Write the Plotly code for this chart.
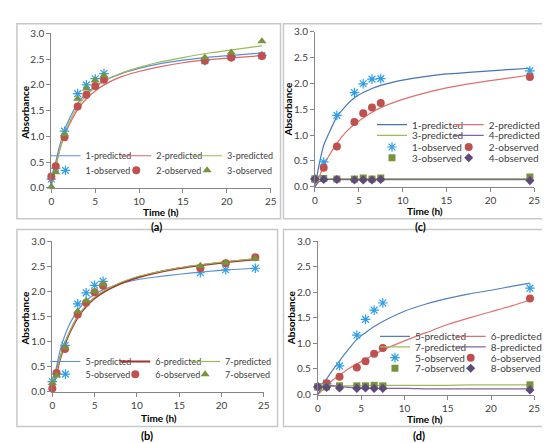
import plotly.graph_objects as go

W, H = 550, 443

# sampling times of the observations
t_obs_ab = [0, 0.5, 1.5, 3, 4, 5, 6, 17.5, 20.5, 24]
t_obs_cd = [0, 1, 2.5, 4.5, 5.5, 6.5, 7.5, 24.5]
t_fit_ab = [0, 0.5, 1, 1.5, 2, 3, 4, 5, 6, 8, 10, 12, 15, 18, 21, 24]
t_fit_cd = [0, 0.5, 1, 1.5, 2.5, 3.5, 4.5, 5.5, 6.5, 7.5, 10, 12.5, 15, 17.5, 20, 22.5, 24.5]

# panel (a)
a_obs1 = [0.17, 0.38, 1.10, 1.83, 2.00, 2.12, 2.22, 2.47, 2.55, 2.57]
a_obs2 = [0.22, 0.42, 0.98, 1.58, 1.81, 1.98, 2.10, 2.47, 2.53, 2.56]
a_obs3 = [0.02, 0.30, 1.04, 1.73, 1.93, 2.09, 2.18, 2.53, 2.63, 2.85]
a_fit1 = [0.10, 0.50, 0.85, 1.12, 1.32, 1.64, 1.84, 1.97, 2.08, 2.22, 2.32, 2.40, 2.48, 2.54, 2.58, 2.62]
a_fit2 = [0.05, 0.42, 0.76, 1.01, 1.21, 1.52, 1.73, 1.88, 2.00, 2.16, 2.26, 2.34, 2.43, 2.49, 2.53, 2.57]
a_fit3 = [0.02, 0.40, 0.76, 1.04, 1.25, 1.58, 1.80, 1.95, 2.07, 2.23, 2.34, 2.43, 2.53, 2.62, 2.69, 2.76]

# panel (b)
b_obs5 = [0.20, 0.35, 0.92, 1.75, 1.97, 2.12, 2.20, 2.37, 2.43, 2.46]
b_obs6 = [0.06, 0.37, 0.85, 1.54, 1.77, 1.98, 2.11, 2.46, 2.56, 2.68]
b_obs7 = [0.17, 0.32, 0.88, 1.60, 1.81, 2.00, 2.14, 2.51, 2.57, 2.65]
b_fit5 = [0.08, 0.50, 0.87, 1.13, 1.33, 1.62, 1.81, 1.94, 2.03, 2.15, 2.23, 2.28, 2.34, 2.39, 2.43, 2.46]
b_fit6 = [0.03, 0.38, 0.70, 0.95, 1.16, 1.48, 1.70, 1.86, 1.98, 2.15, 2.27, 2.36, 2.46, 2.53, 2.59, 2.64]
b_fit7 = [0.05, 0.40, 0.72, 0.98, 1.18, 1.50, 1.72, 1.88, 2.00, 2.17, 2.29, 2.37, 2.47, 2.54, 2.60, 2.65]

# panel (c)
c_obs1 = [0.15, 0.48, 1.38, 1.82, 1.99, 2.08, 2.09, 2.24]
c_obs2 = [0.15, 0.37, 0.78, 1.25, 1.42, 1.53, 1.62, 2.12]
c_obs3 = [0.15, 0.16, 0.15, 0.15, 0.17, 0.15, 0.17, 0.19]
c_obs4 = [0.15, 0.14, 0.14, 0.13, 0.13, 0.13, 0.14, 0.12]
c_fit1 = [0.0, 0.45, 0.80, 1.00, 1.35, 1.56, 1.72, 1.82, 1.90, 1.96, 2.06, 2.13, 2.18, 2.21, 2.24, 2.27, 2.29]
c_fit2 = [0.0, 0.20, 0.40, 0.57, 0.84, 1.05, 1.21, 1.33, 1.44, 1.53, 1.69, 1.81, 1.91, 1.99, 2.05, 2.11, 2.16]
c_fit3 = [0.0, 0.11, 0.15, 0.16, 0.16, 0.16, 0.16, 0.16, 0.16, 0.16, 0.16, 0.16, 0.16, 0.16, 0.16, 0.16, 0.16]
c_fit4 = [0.0, 0.10, 0.13, 0.14, 0.14, 0.14, 0.14, 0.14, 0.14, 0.14, 0.14, 0.14, 0.14, 0.14, 0.14, 0.14, 0.14]

# panel (d)
d_obs5 = [0.15, 0.22, 0.56, 1.16, 1.47, 1.65, 1.79, 2.08]
d_obs6 = [0.15, 0.22, 0.35, 0.53, 0.65, 0.80, 0.91, 1.88]
d_obs7 = [0.15, 0.15, 0.17, 0.17, 0.17, 0.18, 0.17, 0.19]
d_obs8 = [0.15, 0.14, 0.13, 0.12, 0.13, 0.12, 0.12, 0.09]
d_fit5 = [0.0, 0.15, 0.30, 0.43, 0.66, 0.88, 1.08, 1.21, 1.33, 1.43, 1.63, 1.77, 1.88, 1.97, 2.04, 2.12, 2.18]
d_fit6 = [0.0, 0.08, 0.17, 0.25, 0.38, 0.50, 0.60, 0.69, 0.78, 0.87, 1.05, 1.21, 1.37, 1.50, 1.62, 1.74, 1.85]
d_fit7 = [0.0, 0.10, 0.15, 0.16, 0.17, 0.17, 0.17, 0.18, 0.18, 0.18, 0.18, 0.18, 0.18, 0.19, 0.19, 0.19, 0.19]
d_fit8 = [0.0, 0.14, 0.19, 0.18, 0.16, 0.14, 0.13, 0.13, 0.12, 0.12, 0.12, 0.11, 0.11, 0.11, 0.11, 0.11, 0.11]

FONT = "Lato"
GRAY_TXT = "#404040"
AX_GRAY = "#868686"


def px_x(x):
    return x / W


def px_y(y):
    return 1 - y / H


fig = go.Figure()

star = dict(symbol="asterisk-open", size=8, color="#2f9ee8", line=dict(width=1.2, color="#2f9ee8"))
circle = dict(symbol="circle", size=8, color="#c0504d")
tri = dict(symbol="triangle-up", size=8, color="#77933c")
square = dict(symbol="square", size=7, color="#77933c")
diamond = dict(symbol="diamond", size=7, color="#5f497a")

# one small legend per entry so the rows/columns can sit where the reference has them
# (legend-box x in px, row centre y in px, font size)
legend_spots = []


def place(lx, ly, fs):
    name = "legend" if not legend_spots else "legend%d" % (len(legend_spots) + 1)
    legend_spots.append((name, lx, ly, fs))
    return name


def fit(t, y, name, color, ax, spot, width=1.2):
    fig.add_trace(go.Scatter(x=t, y=y, name=name, mode="lines",
                             line=dict(color=color, width=width, shape="spline", smoothing=0.7),
                             xaxis="x" + ax, yaxis="y" + ax, legend=place(*spot), cliponaxis=False))


def obs(t, y, name, marker, ax, spot):
    fig.add_trace(go.Scatter(x=t, y=y, name=name, mode="markers", marker=marker,
                             xaxis="x" + ax, yaxis="y" + ax, legend=place(*spot), cliponaxis=False))


# (a) -> axis "", (c) -> "2", (b) -> "3", (d) -> "4"
ca = [35, 107, 179]
fit(t_fit_ab, a_fit1, "1-predicted", "#5b8fd4", "", (ca[0], 154, 9))
fit(t_fit_ab, a_fit2, "2-predicted", "#df6460", "", (ca[1], 154, 9))
fit(t_fit_ab, a_fit3, "3-predicted", "#9bbb59", "", (ca[2], 154, 9))
obs(t_obs_ab, a_obs1, "1-observed", star, "", (ca[0], 169, 9))
obs(t_obs_ab, a_obs2, "2-observed", circle, "", (ca[1], 169, 9))
obs(t_obs_ab, a_obs3, "3-observed", tri, "", (ca[2], 169, 9))

cc = [367, 445]
fit(t_fit_cd, c_fit1, "1-predicted", "#4575b4", "2", (cc[0], 122, 10))
fit(t_fit_cd, c_fit2, "2-predicted", "#e0706c", "2", (cc[1], 122, 10))
fit(t_fit_cd, c_fit3, "3-predicted", "#9bbb59", "2", (cc[0], 133, 10))
fit(t_fit_cd, c_fit4, "4-predicted", "#8064a2", "2", (cc[1], 133, 10))
obs(t_obs_cd, c_obs1, "1-observed", star, "2", (cc[0], 145, 10))
obs(t_obs_cd, c_obs2, "2-observed", circle, "2", (cc[1], 145, 10))
obs(t_obs_cd, c_obs3, "3-observed", square, "2", (cc[0], 156, 10))
obs(t_obs_cd, c_obs4, "4-observed", diamond, "2", (cc[1], 156, 10))

cb = [35, 106, 177]
fit(t_fit_ab, b_fit5, "5-predicted", "#5b8fd4", "3", (cb[0], 366, 9))
fit(t_fit_ab, b_fit6, "6-predicted", "#a3322d", "3", (cb[1], 366, 9), width=2)
fit(t_fit_ab, b_fit7, "7-predicted", "#9bbb59", "3", (cb[2], 366, 9))
obs(t_obs_ab, b_obs5, "5-observed", star, "3", (cb[0], 379, 9))
obs(t_obs_ab, b_obs6, "6-observed", circle, "3", (cb[1], 379, 9))
obs(t_obs_ab, b_obs7, "7-observed", tri, "3", (cb[2], 379, 9))

cd = [370, 447]
fit(t_fit_cd, d_fit5, "5-predicted", "#4f81bd", "4", (cd[0], 340, 10))
fit(t_fit_cd, d_fit6, "6-predicted", "#e0706c", "4", (cd[1], 340, 10))
fit(t_fit_cd, d_fit7, "7-predicted", "#9bbb59", "4", (cd[0], 351, 10))
fit(t_fit_cd, d_fit8, "8-predicted", "#8064a2", "4", (cd[1], 351, 10))
obs(t_obs_cd, d_obs5, "5-observed", star, "4", (cd[0], 362, 10))
obs(t_obs_cd, d_obs6, "6-observed", circle, "4", (cd[1], 362, 10))
obs(t_obs_cd, d_obs7, "7-observed", square, "4", (cd[0], 373, 10))
obs(t_obs_cd, d_obs8, "8-observed", diamond, "4", (cd[1], 373, 10))

# plot-area pixel boxes: (x at t=0, x at t=25, y at 0, y at 3.0)
areas = {
    "": (41, 264, 178, 19),
    "2": (309, 532, 177, 17),
    "3": (42, 257, 388, 233),
    "4": (312, 532, 391, 233),
}
# axis title centres in px: (x-title x, x-title y, y-title x, y-title y)
title_spots = {
    "": (152, 203, 14, 100),
    "2": (421, 202, 282, 97),
    "3": (150, 415, 14, 312),
    "4": (421, 416, 284, 312),
}
tick_font = dict(family=FONT, size=10, color=GRAY_TXT)
title_font = dict(family=FONT, size=10, color="#000000")


def label(text, x, y, font, angle=0):
    fig.add_annotation(text=text, xref="paper", yref="paper", x=px_x(x), y=px_y(y),
                       xanchor="center", yanchor="middle", showarrow=False, textangle=angle, font=font)


for key, (x0, x1, y0, y1) in areas.items():
    common = dict(showline=True, linecolor=AX_GRAY, linewidth=1, ticks="outside", ticklen=4,
                  tickcolor=AX_GRAY, showgrid=False, zeroline=False, tickfont=tick_font)
    fig.update_layout(**{
        "xaxis" + key: dict(domain=[px_x(x0), px_x(x1)], range=[0, 25], tickvals=[0, 5, 10, 15, 20, 25],
                            anchor="y" + key, **common),
        "yaxis" + key: dict(domain=[px_y(y0), px_y(y1)], range=[0, 3], dtick=0.5, tickformat=".1f",
                            anchor="x" + key, **common),
    })
    tx, ty, yx, yy = title_spots[key]
    label("<b>Time (h)</b>", tx, ty, title_font)
    label("<b>Absorbance</b>", yx, yy, title_font, angle=-90)

for name, lx, ly, fs in legend_spots:
    fig.update_layout(**{name: dict(orientation="h", x=px_x(lx), y=px_y(ly - 9), xanchor="left",
                                    yanchor="middle", bgcolor="rgba(0,0,0,0)",
                                    font=dict(family=FONT, size=fs, color=GRAY_TXT), itemclick=False)})

# panel frames and captions
frames = [(6, 9, 274, 210, "(a)", 148, 218), (277, 9, 544, 210, "(c)", 416, 218),
          (6, 221, 271, 424, "(b)", 138, 433), (277, 221, 544, 424, "(d)", 415, 433)]
for fx0, fy0, fx1, fy1, lab, lx, ly in frames:
    fig.add_shape(type="rect", xref="paper", yref="paper", x0=px_x(fx0), x1=px_x(fx1),
                  y0=px_y(fy1), y1=px_y(fy0), line=dict(color="#c8c8c8", width=1.5))
    label("<b>" + lab + "</b>", lx, ly, dict(family=FONT, size=11, color="#000000"))

fig.update_layout(width=W, height=H, margin=dict(l=0, r=0, t=0, b=0), showlegend=True,
                  paper_bgcolor="white", plot_bgcolor="white", font=dict(family=FONT))

fig.write_html("out.html")
